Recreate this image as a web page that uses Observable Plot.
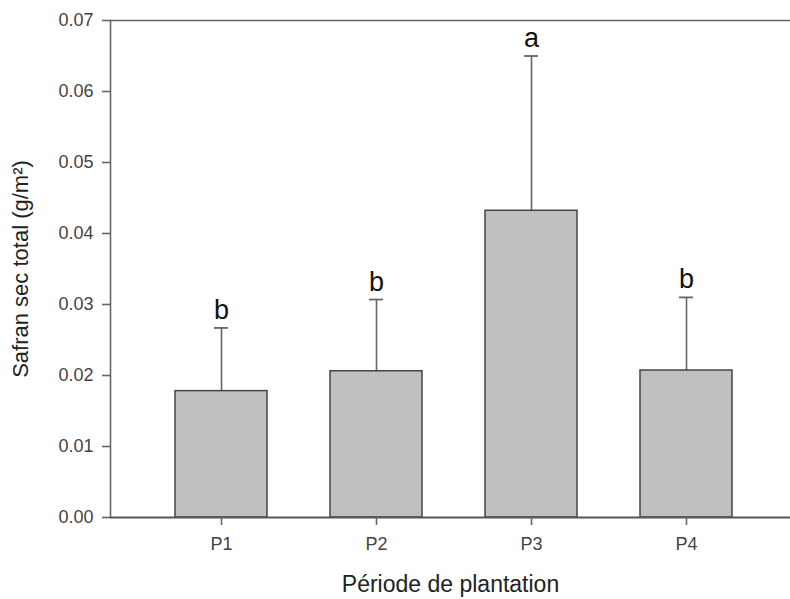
<!DOCTYPE html>
<html>
<head>
<meta charset="utf-8">
<script src="https://cdn.jsdelivr.net/npm/d3@7"></script>
<script src="https://cdn.jsdelivr.net/npm/@observablehq/plot@0.6"></script>
<style>
  html, body { margin: 0; padding: 0; background: #fff; }
  #chart svg { display: block; overflow: hidden; }
</style>
</head>
<body>
<div id="chart"></div>
<script>
const periods = ["P1", "P2", "P3", "P4"];
const means = [0.0178, 0.0206, 0.0432, 0.0207];
const errUp = [0.0089, 0.0101, 0.0218, 0.0103];
const letters = ["b", "b", "a", "b"];
const yTicks = [0, 0.01, 0.02, 0.03, 0.04, 0.05, 0.06, 0.07];
const xTitle = "Période de plantation";
const yTitle = "Safran sec total (g/m²)";

const data = periods.map((p, i) => ({p, mean: means[i], top: means[i] + errUp[i], letter: letters[i]}));

const font = "'Liberation Sans', Arial, sans-serif";

const chart = Plot.plot({
  width: 790,
  height: 599,
  marginLeft: 110,
  marginRight: 0,
  marginTop: 20,
  marginBottom: 82,
  style: {fontFamily: font, background: "#fff"},
  x: {type: "band", domain: periods, range: [110, 797], padding: 0.404},
  y: {domain: [0, 0.07]},
  marks: [
    Plot.ruleX(data, {x: "p", y1: "mean", y2: "top", stroke: "#666", strokeWidth: 1.6}),
    Plot.tickY(data, {x: "p", y: "top", stroke: "#666", strokeWidth: 1.8, insetLeft: 39, insetRight: 39}),
    Plot.barY(data, {x: "p", y: "mean", fill: "#c0c0c0", stroke: "#444", strokeWidth: 1.5}),
    Plot.text(data, {x: "p", y: "top", text: "letter", lineAnchor: "bottom", dy: -9, fontSize: 27, fill: "#111"}),
    Plot.frame({anchor: "left", stroke: "#666", strokeWidth: 1.6}),
    Plot.frame({anchor: "top", stroke: "#666", strokeWidth: 1.6}),
    Plot.ruleY([0], {stroke: "#555", strokeWidth: 1.8}),
    Plot.axisY({ticks: yTicks, tickFormat: d3.format(".2f"), tickSize: 8, tickPadding: 9, fontSize: 18, label: null, color: "#444", stroke: "#666", strokeWidth: 1.6}),
    Plot.axisX({tickSize: 8, tickPadding: 12, fontSize: 18, label: null, color: "#444", stroke: "#666", strokeWidth: 1.6}),
    Plot.text([xTitle], {frameAnchor: "bottom", dy: 67, lineAnchor: "middle", textAnchor: "middle", fontSize: 23, fill: "#222", text: d => d}),
    Plot.text([yTitle], {frameAnchor: "left", dx: -90, rotate: -90, lineAnchor: "middle", textAnchor: "middle", fontSize: 22, fill: "#222", text: d => d})
  ]
});
document.getElementById("chart").append(chart);
</script>
</body>
</html>
